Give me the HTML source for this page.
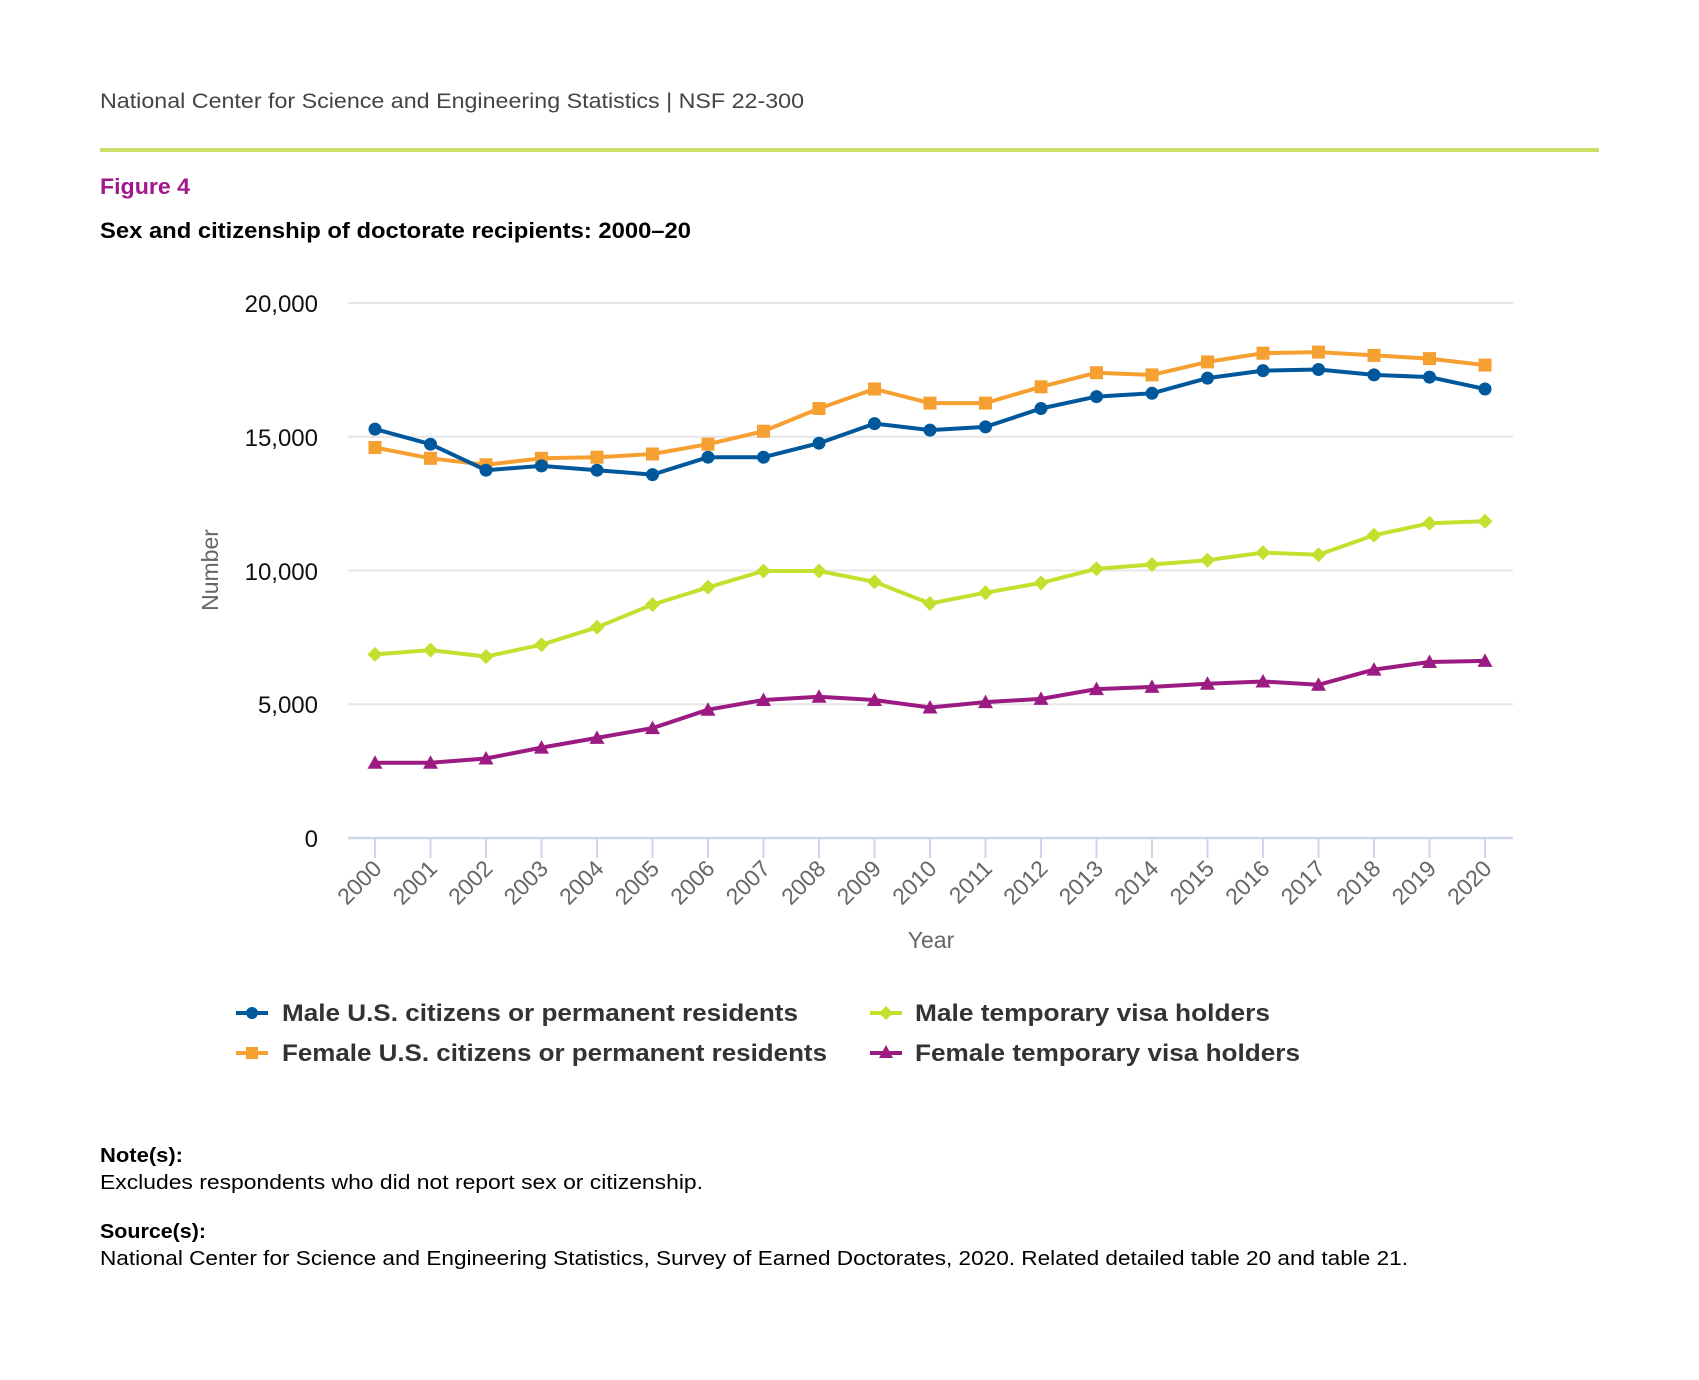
<!DOCTYPE html>
<html><head><meta charset="utf-8"><style>html,body{margin:0;padding:0;background:#fff}svg{display:block}</style></head>
<body>
<svg width="1699" height="1380" viewBox="0 0 1699 1380" xmlns="http://www.w3.org/2000/svg" font-family="Liberation Sans, sans-serif">
<defs>
<marker id="mc" viewBox="-8 -8 16 16" markerWidth="16" markerHeight="16" markerUnits="userSpaceOnUse"><circle r="6.5" fill="#00589c"/></marker>
<marker id="ms" viewBox="-8 -8 16 16" markerWidth="16" markerHeight="16" markerUnits="userSpaceOnUse"><rect x="-6.5" y="-6.5" width="13" height="13" fill="#f6a031"/></marker>
<marker id="md" viewBox="-8 -8 16 16" markerWidth="16" markerHeight="16" markerUnits="userSpaceOnUse"><path d="M0,-7.5 L7.5,0 L0,7.5 L-7.5,0Z" fill="#c3e02f"/></marker>
<marker id="mt" viewBox="-8 -8 16 16" markerWidth="16" markerHeight="16" markerUnits="userSpaceOnUse"><path d="M0,-7.5 L7.5,6 L-7.5,6Z" fill="#9b1b83"/></marker>
</defs>
<text x="100" y="108" font-size="21" fill="#444" textLength="704" lengthAdjust="spacingAndGlyphs">National Center for Science and Engineering Statistics  |  NSF 22-300</text>
<rect x="100" y="148" width="1499" height="4" fill="#c8e068"/>
<text x="100" y="194" font-size="22" font-weight="bold" fill="#a0188c" textLength="90" lengthAdjust="spacingAndGlyphs">Figure 4</text>
<text x="100" y="238" font-size="22" font-weight="bold" fill="#000" textLength="591" lengthAdjust="spacingAndGlyphs">Sex and citizenship of doctorate recipients: 2000–20</text>
<g stroke="#e6e6e6" stroke-width="2">
<line x1="348" y1="303" x2="1513" y2="303"/><line x1="348" y1="436.75" x2="1513" y2="436.75"/><line x1="348" y1="570.5" x2="1513" y2="570.5"/><line x1="348" y1="704.25" x2="1513" y2="704.25"/>
</g>
<line x1="348" y1="838" x2="1513" y2="838" stroke="#ccd6eb" stroke-width="2.5"/>
<g font-size="24" fill="#111" text-anchor="end">
<text x="318" y="312">20,000</text><text x="318" y="446">15,000</text><text x="318" y="580">10,000</text><text x="318" y="713">5,000</text><text x="318" y="847">0</text>
</g>
<text transform="translate(218,570) rotate(-90)" font-size="23" fill="#666" text-anchor="middle">Number</text>
<text x="931" y="948" font-size="23" fill="#666" text-anchor="middle">Year</text>
<g stroke="#ccd6eb" stroke-width="2">
<line x1="375" y1="838" x2="375" y2="858"/><line x1="430.5" y1="838" x2="430.5" y2="858"/><line x1="486" y1="838" x2="486" y2="858"/><line x1="541.5" y1="838" x2="541.5" y2="858"/><line x1="597" y1="838" x2="597" y2="858"/><line x1="652.5" y1="838" x2="652.5" y2="858"/><line x1="708" y1="838" x2="708" y2="858"/><line x1="763.5" y1="838" x2="763.5" y2="858"/><line x1="819" y1="838" x2="819" y2="858"/><line x1="874.5" y1="838" x2="874.5" y2="858"/><line x1="930" y1="838" x2="930" y2="858"/><line x1="985.5" y1="838" x2="985.5" y2="858"/><line x1="1041" y1="838" x2="1041" y2="858"/><line x1="1096.5" y1="838" x2="1096.5" y2="858"/><line x1="1152" y1="838" x2="1152" y2="858"/><line x1="1207.5" y1="838" x2="1207.5" y2="858"/><line x1="1263" y1="838" x2="1263" y2="858"/><line x1="1318.5" y1="838" x2="1318.5" y2="858"/><line x1="1374" y1="838" x2="1374" y2="858"/><line x1="1429.5" y1="838" x2="1429.5" y2="858"/><line x1="1485" y1="838" x2="1485" y2="858"/>
</g>
<g font-size="23" fill="#666" text-anchor="end">
<text transform="translate(383,870) rotate(-45)">2000</text><text transform="translate(438.5,870) rotate(-45)">2001</text><text transform="translate(494,870) rotate(-45)">2002</text><text transform="translate(549.5,870) rotate(-45)">2003</text><text transform="translate(605,870) rotate(-45)">2004</text><text transform="translate(660.5,870) rotate(-45)">2005</text><text transform="translate(716,870) rotate(-45)">2006</text><text transform="translate(771.5,870) rotate(-45)">2007</text><text transform="translate(827,870) rotate(-45)">2008</text><text transform="translate(882.5,870) rotate(-45)">2009</text><text transform="translate(938,870) rotate(-45)">2010</text><text transform="translate(993.5,870) rotate(-45)">2011</text><text transform="translate(1049,870) rotate(-45)">2012</text><text transform="translate(1104.5,870) rotate(-45)">2013</text><text transform="translate(1160,870) rotate(-45)">2014</text><text transform="translate(1215.5,870) rotate(-45)">2015</text><text transform="translate(1271,870) rotate(-45)">2016</text><text transform="translate(1326.5,870) rotate(-45)">2017</text><text transform="translate(1382,870) rotate(-45)">2018</text><text transform="translate(1437.5,870) rotate(-45)">2019</text><text transform="translate(1493,870) rotate(-45)">2020</text>
</g>
<g fill="none" stroke-width="4" stroke-linejoin="round">
<polyline stroke="#c3e02f" marker-start="url(#md)" marker-mid="url(#md)" marker-end="url(#md)" points="375,654.4 430.5,650.1 486,656.6 541.5,644.7 597,627.3 652.5,604.6 708,587.3 763.5,571 819,571 874.5,581.8 930,603.5 985.5,592.7 1041,582.9 1096.5,568.8 1152,564.5 1207.5,560.2 1263,552.6 1318.5,554.8 1374,535.2 1429.5,523.3 1485,521.2"/>
<polyline stroke="#9b1b83" marker-start="url(#mt)" marker-mid="url(#mt)" marker-end="url(#mt)" points="375,762.8 430.5,762.8 486,758.5 541.5,747.6 597,737.9 652.5,728.1 708,709.7 763.5,700 819,696.7 874.5,700 930,707.5 985.5,702.1 1041,698.9 1096.5,689.1 1152,686.9 1207.5,683.7 1263,681.5 1318.5,684.8 1374,669.6 1429.5,662 1485,660.9"/>
<polyline stroke="#f6a031" marker-start="url(#ms)" marker-mid="url(#ms)" marker-end="url(#ms)" points="375,447.5 430.5,458.3 486,464.8 541.5,458.3 597,457.2 652.5,454 708,444.2 763.5,431.2 819,408.5 874.5,389 930,403.1 985.5,403.1 1041,386.8 1096.5,372.7 1152,374.9 1207.5,361.9 1263,353.2 1318.5,352.1 1374,355.4 1429.5,358.6 1485,365.1"/>
<polyline stroke="#00589c" marker-start="url(#mc)" marker-mid="url(#mc)" marker-end="url(#mc)" points="375,429.1 430.5,444.2 486,470.2 541.5,465.9 597,470.2 652.5,474.6 708,457.2 763.5,457.2 819,443.2 874.5,423.6 930,430.1 985.5,426.9 1041,408.5 1096.5,396.6 1152,393.3 1207.5,378.1 1263,370.6 1318.5,369.5 1374,374.9 1429.5,377.1 1485,389"/>
</g>
<g stroke-width="4">
<line x1="236" y1="1013" x2="268" y2="1013" stroke="#00589c"/><circle cx="252" cy="1013" r="6" fill="#00589c"/>
<line x1="236" y1="1053" x2="268" y2="1053" stroke="#f6a031"/><rect x="246" y="1047" width="12" height="12" fill="#f6a031"/>
<line x1="870" y1="1013" x2="902" y2="1013" stroke="#c3e02f"/><path d="M886,1006 L893,1013 L886,1020 L879,1013Z" fill="#c3e02f"/>
<line x1="870" y1="1053" x2="902" y2="1053" stroke="#9b1b83"/><path d="M886,1045 L893,1058 L879,1058Z" fill="#9b1b83"/>
</g>
<g font-size="24" font-weight="bold" fill="#333">
<text x="282" y="1021" textLength="516" lengthAdjust="spacingAndGlyphs">Male U.S. citizens or permanent residents</text>
<text x="282" y="1061" textLength="545" lengthAdjust="spacingAndGlyphs">Female U.S. citizens or permanent residents</text>
<text x="915" y="1021" textLength="355" lengthAdjust="spacingAndGlyphs">Male temporary visa holders</text>
<text x="915" y="1061" textLength="385" lengthAdjust="spacingAndGlyphs">Female temporary visa holders</text>
</g>
<g font-size="20" fill="#000">
<text x="100" y="1162" font-weight="bold" textLength="83" lengthAdjust="spacingAndGlyphs">Note(s):</text>
<text x="100" y="1189" textLength="603" lengthAdjust="spacingAndGlyphs">Excludes respondents who did not report sex or citizenship.</text>
<text x="100" y="1238" font-weight="bold" textLength="106" lengthAdjust="spacingAndGlyphs">Source(s):</text>
<text x="100" y="1265" textLength="1308" lengthAdjust="spacingAndGlyphs">National Center for Science and Engineering Statistics, Survey of Earned Doctorates, 2020. Related detailed table 20 and table 21.</text>
</g>
</svg>
</body></html>
